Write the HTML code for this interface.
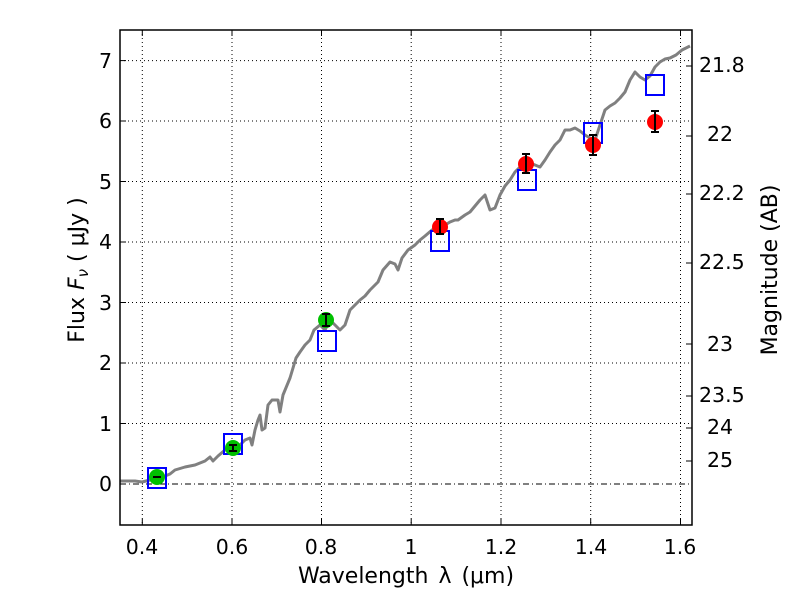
<!DOCTYPE html>
<html><head><meta charset="utf-8"><style>body{margin:0;background:#fff}svg text{font-family:"DejaVu Sans","Liberation Sans",sans-serif;fill:#000}</style></head>
<body>
<svg width="800" height="600" viewBox="0 0 800 600" xmlns="http://www.w3.org/2000/svg">
<rect width="800" height="600" fill="#fff"/>
<g stroke="#000" stroke-width="1" stroke-dasharray="1,3" fill="none">
<line x1="142.3" y1="30" x2="142.3" y2="525"/><line x1="232" y1="30" x2="232" y2="525"/><line x1="321.5" y1="30" x2="321.5" y2="525"/><line x1="411.2" y1="30" x2="411.2" y2="525"/><line x1="501" y1="30" x2="501" y2="525"/><line x1="590.7" y1="30" x2="590.7" y2="525"/><line x1="680.5" y1="30" x2="680.5" y2="525"/>
<line x1="120" y1="60.6" x2="692" y2="60.6"/><line x1="120" y1="121" x2="692" y2="121"/><line x1="120" y1="181.5" x2="692" y2="181.5"/><line x1="120" y1="242" x2="692" y2="242"/><line x1="120" y1="302.5" x2="692" y2="302.5"/><line x1="120" y1="363" x2="692" y2="363"/><line x1="120" y1="423.5" x2="692" y2="423.5"/>
</g>
<line x1="120" y1="484" x2="692" y2="484" stroke="#000" stroke-dasharray="6,3,1,3" stroke-width="1"/>
<polyline fill="none" stroke="#808080" stroke-width="3" stroke-linejoin="round" points="120,481 135,481 142,482 150,480 160,478 170,474 175,470 185,467 195,465 205,461 210,457 213,461 218,456 225,450 232,447 240,445 245,440 250,438 252,445 255,430 258,420 260,415 262,430 265,428 268,405 272,400 278,400 280,412 283,395 290,378 296,358 300,352 305,345 310,340 314,330 320,325 325,330 330,320 335,325 340,330 345,325 350,310 355,305 360,300 365,296 370,290 378,282 383,270 390,262 395,264 398,270 402,258 408,250 415,245 420,240 425,236 432,230 440,226 445,225 450,222 455,220 458,220 465,215 470,212 475,206 480,200 485,195 490,210 495,208 500,195 505,186 510,180 515,172 520,167 525,170 530,163 535,165 540,167 545,160 550,152 555,145 560,140 565,130 570,130 575,128 580,131 585,135 590,138 595,140 600,125 605,110 610,106 615,103 620,98 625,92 630,80 635,72 640,77 645,80 650,76 655,67 660,62 665,59 670,58 676,55 682,50 690,46"/>
<g fill="none" stroke="#00f" stroke-width="2">
<rect x="148" y="468" width="18" height="20"/><rect x="224" y="434" width="18" height="20"/><rect x="318" y="331" width="18" height="20"/><rect x="431" y="231" width="18" height="20"/><rect x="518" y="170" width="18" height="20"/><rect x="584" y="123" width="18" height="20"/><rect x="646" y="75" width="18" height="20"/>
</g>
<g fill="#00c000"><circle cx="157" cy="477" r="8"/><circle cx="233" cy="448" r="8"/><circle cx="326" cy="320" r="8"/></g>
<g fill="#f00"><circle cx="440" cy="227" r="8"/><circle cx="526" cy="164" r="8"/><circle cx="593" cy="145" r="8"/><circle cx="655" cy="122" r="8"/></g>
<g stroke="#000" stroke-width="2">
<line x1="153" y1="477" x2="161" y2="477"/>
<line x1="233" y1="445" x2="233" y2="451"/><line x1="229" y1="445" x2="237" y2="445"/><line x1="229" y1="451" x2="237" y2="451"/>
<line x1="326" y1="314" x2="326" y2="326"/><line x1="322" y1="314" x2="330" y2="314"/><line x1="322" y1="326" x2="330" y2="326"/>
<line x1="440" y1="219" x2="440" y2="234"/><line x1="436" y1="219" x2="444" y2="219"/><line x1="436" y1="234" x2="444" y2="234"/>
<line x1="526" y1="154" x2="526" y2="173"/><line x1="522" y1="154" x2="530" y2="154"/><line x1="522" y1="173" x2="530" y2="173"/>
<line x1="593" y1="135" x2="593" y2="155"/><line x1="589" y1="135" x2="597" y2="135"/><line x1="589" y1="155" x2="597" y2="155"/>
<line x1="655" y1="111" x2="655" y2="132"/><line x1="651" y1="111" x2="659" y2="111"/><line x1="651" y1="132" x2="659" y2="132"/>
</g>
<rect x="120" y="30" width="572" height="495" fill="none" stroke="#000" stroke-width="1.5"/>
<g stroke="#000" stroke-width="1">
<line x1="142.3" y1="525" x2="142.3" y2="519"/><line x1="232" y1="525" x2="232" y2="519"/><line x1="321.5" y1="525" x2="321.5" y2="519"/><line x1="411.2" y1="525" x2="411.2" y2="519"/><line x1="501" y1="525" x2="501" y2="519"/><line x1="590.7" y1="525" x2="590.7" y2="519"/><line x1="680.5" y1="525" x2="680.5" y2="519"/>
<line x1="142.3" y1="30" x2="142.3" y2="36"/><line x1="232" y1="30" x2="232" y2="36"/><line x1="321.5" y1="30" x2="321.5" y2="36"/><line x1="411.2" y1="30" x2="411.2" y2="36"/><line x1="501" y1="30" x2="501" y2="36"/><line x1="590.7" y1="30" x2="590.7" y2="36"/><line x1="680.5" y1="30" x2="680.5" y2="36"/>
<line x1="120" y1="60.6" x2="126" y2="60.6"/><line x1="120" y1="121" x2="126" y2="121"/><line x1="120" y1="181.5" x2="126" y2="181.5"/><line x1="120" y1="242" x2="126" y2="242"/><line x1="120" y1="302.5" x2="126" y2="302.5"/><line x1="120" y1="363" x2="126" y2="363"/><line x1="120" y1="423.5" x2="126" y2="423.5"/><line x1="120" y1="484" x2="126" y2="484"/>
<line x1="686" y1="66" x2="692" y2="66"/><line x1="686" y1="136" x2="692" y2="136"/><line x1="686" y1="194" x2="692" y2="194"/><line x1="686" y1="263" x2="692" y2="263"/><line x1="686" y1="344" x2="692" y2="344"/><line x1="686" y1="396" x2="692" y2="396"/><line x1="686" y1="428" x2="692" y2="428"/><line x1="686" y1="461" x2="692" y2="461"/>
</g>
<g font-size="20.5" text-anchor="middle">
<text x="142" y="554">0.4</text><text x="232" y="554">0.6</text><text x="321" y="554">0.8</text><text x="411" y="554">1</text><text x="501" y="554">1.2</text><text x="591" y="554">1.4</text><text x="680" y="554">1.6</text>
</g>
<g font-size="20.5" text-anchor="end">
<text x="112" y="68">7</text><text x="112" y="128">6</text><text x="112" y="189">5</text><text x="112" y="249">4</text><text x="112" y="310">3</text><text x="112" y="370">2</text><text x="112" y="431">1</text><text x="112" y="491">0</text>
</g>
<g font-size="20.5">
<text x="699" y="72">21.8</text><text x="707" y="141">22</text><text x="699" y="200">22.2</text><text x="699" y="269">22.5</text><text x="707" y="351">23</text><text x="699" y="402">23.5</text><text x="707" y="434">24</text><text x="707" y="467">25</text>
</g>
<text x="406" y="583" font-size="22" text-anchor="middle" word-spacing="3">Wavelength  λ (μm)</text>
<text transform="translate(84,270) rotate(-90)" font-size="22" text-anchor="middle">Flux  <tspan font-style="italic">F</tspan><tspan font-size="15" font-style="italic" dy="4">ν</tspan><tspan dy="-4">  ( μJy )</tspan></text>
<text transform="translate(777,270) rotate(-90)" font-size="22" text-anchor="middle">Magnitude (AB)</text>
</svg>
</body></html>
